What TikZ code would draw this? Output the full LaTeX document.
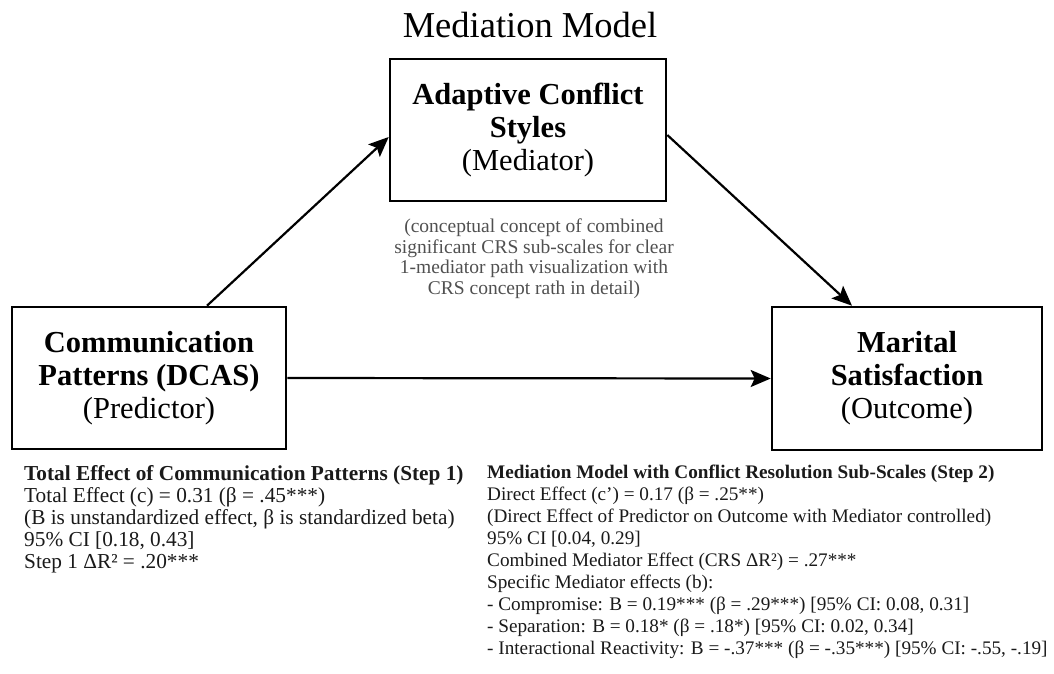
\documentclass[tikz,border=0pt]{standalone}
\usepackage{fontspec}
\setmainfont{Liberation Serif}
\usetikzlibrary{arrows.meta}
\definecolor{notegray}{HTML}{505050}
\definecolor{textdark}{HTML}{1A1A1A}
\tikzset{
  varbox/.style={draw=black, line width=2.6pt, inner sep=0pt, align=center,
    font=\fontsize{30.5}{33}\selectfont},
  path/.style={line width=2.2pt, -{Stealth[length=20pt,width=17pt,inset=4pt]}},
  txtL/.style={anchor=base west, inner sep=0pt, text=textdark,
    font=\fontsize{21.3}{22}\selectfont},
  txtR/.style={anchor=base west, inner sep=0pt, text=textdark,
    font=\fontsize{19.2}{22}\selectfont},
  note/.style={align=center, inner sep=0pt, text=notegray,
    font=\fontsize{19.5}{20.5}\selectfont},
}
\begin{document}
\begin{tikzpicture}[x=1pt,y=-1pt]
\useasboundingbox (0,0) rectangle (1054,673);
% title
\node[anchor=base, inner sep=0pt, font=\fontsize{36.5}{40}\selectfont] (title) at (530,37) {Mediation Model};
% boxes
\node[varbox, minimum width=276pt, minimum height=142pt] (med) at (528,130)
  {\textbf{Adaptive Conflict}\\\textbf{Styles}\\(Mediator)};
\node[varbox, minimum width=274pt, minimum height=142pt] (pred) at (149,378)
  {\textbf{Communication}\\\textbf{Patterns (DCAS)}\\(Predictor)};
\node[varbox, minimum width=270pt, minimum height=143pt] (out) at (907,378.5)
  {\textbf{Marital}\\\textbf{Satisfaction}\\(Outcome)};
% note under mediator
\node[note, anchor=north] (medNote) at (534,219)
  {(conceptual concept of combined\\significant CRS sub-scales for clear\\1-mediator path visualization with\\CRS concept rath in detail)};
% arrows
\coordinate (aStart) at ([xshift=58pt]pred.north);
\coordinate (aEnd) at ([yshift=-7pt]med.west);
\coordinate (bStart) at ([yshift=-5pt]med.east);
\coordinate (bEnd) at ([xshift=-55pt]out.north);
\draw[path] (aStart) -- (aEnd);
\draw[path] (bStart) -- (bEnd);
\draw[path] (pred.east) -- (out.west);
% left text block
\node[txtL] (l1) at (24,480) {\textbf{Total Effect of Communication Patterns (Step 1)}};
\node[txtL] (l2) at (24,502) {Total Effect (c) = 0.31 (β = .45***)};
\node[txtL] (l3) at (24,524) {(B is unstandardized effect, β is standardized beta)};
\node[txtL] (l4) at (24,546) {95\% CI [0.18, 0.43]};
\node[txtL] (l5) at (24,568) {Step 1 ΔR² = .20***};
% right text block
\node[txtR] (r1) at (487,478) {\textbf{Mediation Model with Conflict Resolution Sub-Scales (Step 2)}};
\node[txtR] (r2) at (487,500) {Direct Effect (c’) = 0.17 (β = .25**)};
\node[txtR] (r3) at (487,522) {(Direct Effect of Predictor on Outcome with Mediator controlled)};
\node[txtR] (r4) at (487,544) {95\% CI [0.04, 0.29]};
\node[txtR] (r5) at (487,566) {Combined Mediator Effect (CRS ΔR²) = .27***};
\node[txtR] (r6) at (487,588) {Specific Mediator effects (b):};
\node[txtR] (r7) at (487,610) {- Compromise: B = 0.19*** (β = .29***) [95\% CI: 0.08, 0.31]};
\node[txtR] (r8) at (487,632) {- Separation: B = 0.18* (β = .18*) [95\% CI: 0.02, 0.34]};
\node[txtR] (r9) at (487,654) {- Interactional Reactivity: B = -.37*** (β = -.35***) [95\% CI: -.55, -.19]};
\end{tikzpicture}
\end{document}
